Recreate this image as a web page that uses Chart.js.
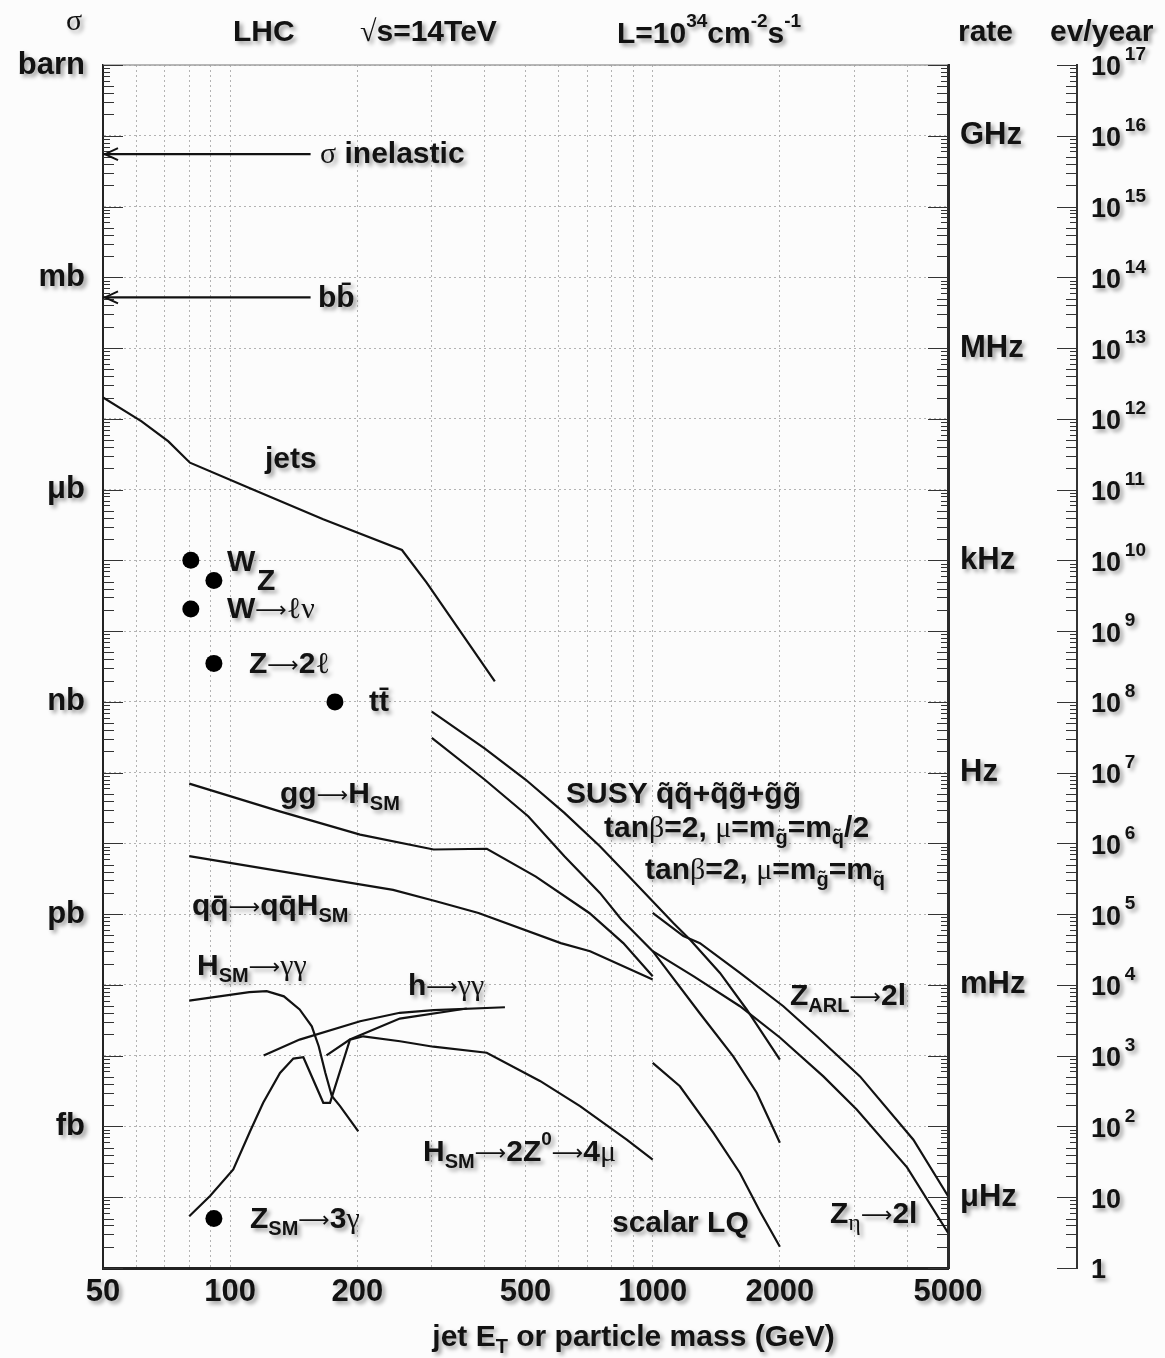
<!DOCTYPE html>
<html>
<head>
<meta charset="utf-8">
<script src="https://cdn.jsdelivr.net/npm/chart.js@4.4.0/dist/chart.umd.min.js"></script>
<style>
  html, body { margin: 0; padding: 0; background: #fcfcfc; }
  canvas { display: block; }
</style>
</head>
<body>
<canvas id="lhc" width="1165" height="1358"></canvas>
<script>
// energies in GeV, cross sections in barn
const sigmaInelX = [50, 155];
const sigmaInelY = [0.055, 0.055];
const bbX = [50, 155];
const bbY = [5.2e-4, 5.2e-4];

const jetsX = [50, 61.7, 71.4, 80.3, 111, 166, 255, 292, 423];
const jetsY = [2.0e-5, 9.2e-6, 4.8e-6, 2.4e-6, 1.05e-6, 3.8e-7, 1.4e-7, 4.8e-8, 1.95e-9];

// W, Z, W->lv, Z->2l, ttbar, Z_SM->3gamma
const dotsX = [80.7, 91.5, 80.7, 91.5, 177, 91.5];
const dotsY = [1.0e-7, 5.2e-8, 2.05e-8, 3.5e-9, 1.0e-9, 5.0e-17];

const ggHX = [80, 131, 203, 303, 405, 529, 708, 852, 1000];
const ggHY = [7.0e-11, 2.84e-11, 1.33e-11, 8.2e-12, 8.4e-12, 3.4e-12, 1.04e-12, 3.9e-13, 1.33e-13];

const qqHX = [80, 157, 243, 307, 387, 606, 711, 1000];
const qqHY = [6.6e-12, 3.4e-12, 2.2e-12, 1.52e-12, 1.04e-12, 3.9e-13, 3.0e-13, 1.19e-13];

const hGamGamX = [80, 111, 122, 134, 146, 156, 162, 168, 174, 182, 201];
const hGamGamY = [6.0e-14, 7.9e-14, 8.15e-14, 6.9e-14, 4.5e-14, 2.6e-14, 1.36e-14, 5.7e-15, 2.7e-15, 1.94e-15, 8.5e-16];

const h4muX = [80, 89.6, 101.7, 111.4, 119.7, 131.2, 141.1, 149, 166.1, 172.3, 192.1, 206.6, 252.3, 302.6, 404.7, 541, 673, 868, 1000];
const h4muY = [5.4e-17, 1.04e-16, 2.47e-16, 8.5e-16, 2.16e-15, 5.7e-15, 9.1e-15, 9.5e-15, 2.16e-15, 2.16e-15, 1.69e-14, 1.88e-14, 1.6e-14, 1.34e-14, 1.1e-14, 4.4e-15, 1.94e-15, 6.5e-16, 3.4e-16];

const lightH1X = [120, 146, 203, 252, 303, 447];
const lightH1Y = [1.01e-14, 1.69e-14, 3.07e-14, 4.04e-14, 4.4e-14, 4.84e-14];
const lightH2X = [169, 192, 252, 363];
const lightH2Y = [1.01e-14, 1.69e-14, 3.35e-14, 4.65e-14];

const susyAX = [300, 400, 500, 618, 750, 879, 1119, 1225, 1443, 1669, 2000];
const susyAY = [7.3e-10, 2.2e-10, 8.0e-11, 2.7e-11, 9.1e-12, 3.4e-12, 7.5e-13, 4.4e-13, 1.48e-13, 4.5e-14, 8.8e-15];
const susyBX = [300, 400, 508, 618, 750, 843, 1000, 1294, 1551, 1763, 2000];
const susyBY = [3.1e-10, 8.0e-11, 2.4e-11, 6.6e-12, 2.0e-12, 8.4e-13, 3.0e-13, 3.95e-14, 9.8e-15, 3.0e-15, 5.9e-16];

const zArlX = [1000, 1182, 1294, 1609, 2038, 2445, 3095, 4140, 5000];
const zArlY = [1.04e-12, 4.9e-13, 3.9e-13, 1.48e-13, 5.0e-14, 1.88e-14, 5.1e-15, 6.5e-16, 1.04e-16];
const zEtaX = [1000, 1248, 1609, 2000, 2535, 3040, 4000, 5000];
const zEtaY = [3.0e-13, 1.33e-13, 5.0e-14, 1.81e-14, 5.1e-15, 1.74e-15, 2.64e-16, 3.15e-17];

const lqX = [1000, 1160, 1391, 1609, 1795, 2000];
const lqY = [7.9e-15, 3.7e-15, 8.2e-16, 2.2e-16, 6.3e-17, 2.0e-17];

// axes
const xGrid = [50, 60, 70, 80, 90, 100, 200, 300, 400, 500, 600, 700, 800, 900, 1000, 2000, 3000, 4000, 5000];
const xLabels = [50, 100, 200, 500, 1000, 2000, 5000];
const unitValues = [1, 1e-3, 1e-6, 1e-9, 1e-12, 1e-15];
const unitLabels = ['barn', 'mb', 'μb', 'nb', 'pb', 'fb'];
const rateValues = [1e-1, 1e-4, 1e-7, 1e-10, 1e-13, 1e-16];
const rateLabels = ['GHz', 'MHz', 'kHz', 'Hz', 'mHz', 'μHz'];
const evExps = [17, 16, 15, 14, 13, 12, 11, 10, 9, 8, 7, 6, 5, 4, 3, 2, 1, 0];

const SANS = "'Liberation Sans', Arial, Helvetica, sans-serif";
const SERIF = "'Liberation Serif', 'DejaVu Serif', serif";
const INK = '#121212';

function logTicks(lo, hi) {
  const out = [];
  for (let e = lo; e <= hi; e++) {
    for (let m = 1; m <= 9; m++) {
      if (e === hi && m > 1) break;
      out.push(Number((m + 'e' + e)));
    }
  }
  return out;
}
function mant(v) {
  const e = Math.floor(Math.log10(v) + 1e-9);
  return Math.round(v / Math.pow(10, e));
}
function near(a, b) { return Math.abs(Math.log10(a) - Math.log10(b)) < 1e-6; }

function series(xs, ys, extra) {
  return Object.assign({
    type: 'line',
    data: xs.map((x, i) => ({x: x, y: ys[i]})),
    borderColor: INK, borderWidth: 2.2, pointRadius: 0, fill: false, tension: 0
  }, extra || {});
}

const STY = {
  b: {font: 'bold 30px ' + SANS, dy: 0},
  s: {font: 'bold 20px ' + SANS, dy: 9},
  p: {font: 'bold 19px ' + SANS, dy: -13},
  g: {font: '30px ' + SERIF, dy: 0},
  a: {font: '22px \'DejaVu Sans\', sans-serif', dy: 1},
  gs: {font: '24px ' + SERIF, dy: 9},
  e: {font: 'bold 27px ' + SANS, dy: 0},
  ep: {font: 'bold 19px ' + SANS, dy: -13}
};
const ARROW = '\u27F6';
function richWidth(ctx, parts) {
  let w = 0;
  parts.forEach(([s, st]) => { ctx.font = STY[st].font; w += ctx.measureText(s).width; });
  return w;
}
function rich(ctx, x, y, parts) {
  let cx = x;
  parts.forEach(([s, st]) => {
    ctx.font = STY[st].font;
    ctx.fillText(s, cx, y + STY[st].dy);
    cx += ctx.measureText(s).width;
  });
}

const notes = [
  [66, 22, [['σ', 'g']]],
  [233, 33, [['LHC', 'b']]],
  [360, 33, [['√', 'g'], ['s=14TeV', 'b']]],
  [617, 35, [['L=10', 'b'], ['34', 'p'], ['cm', 'b'], ['-2', 'p'], ['s', 'b'], ['-1', 'p']]],
  [958, 33, [['rate', 'b']]],
  [1050, 33, [['ev/year', 'b']]],
  [320, 155, [['σ', 'g'], [' inelastic', 'b']]],
  [318, 299, [['bb\u0304', 'b']]],
  [265, 460, [['jets', 'b']]],
  [227, 563, [['W', 'b']]],
  [257, 582, [['Z', 'b']]],
  [227, 610, [['W', 'b'], [ARROW, 'a'], ['ℓν', 'g']]],
  [249, 665, [['Z', 'b'], [ARROW, 'a'], ['2', 'b'], ['ℓ', 'g']]],
  [369, 703, [['tt\u0304', 'b']]],
  [280, 795, [['gg', 'b'], [ARROW, 'a'], ['H', 'b'], ['SM', 's']]],
  [192, 907, [['qq\u0304', 'b'], [ARROW, 'a'], ['qq\u0304H', 'b'], ['SM', 's']]],
  [197, 967, [['H', 'b'], ['SM', 's'], [ARROW, 'a'], ['γγ', 'g']]],
  [408, 987, [['h', 'b'], [ARROW, 'a'], ['γγ', 'g']]],
  [423, 1153, [['H', 'b'], ['SM', 's'], [ARROW, 'a'], ['2Z', 'b'], ['0', 'p'], [ARROW, 'a'], ['4', 'b'], ['μ', 'g']]],
  [250, 1220, [['Z', 'b'], ['SM', 's'], [ARROW, 'a'], ['3', 'b'], ['γ', 'g']]],
  [566, 795, [['SUSY q\u0303q\u0303+q\u0303g\u0303+g\u0303g\u0303', 'b']]],
  [604, 829, [['tan', 'b'], ['β', 'g'], ['=2, ', 'b'], ['μ', 'g'], ['=m', 'b'], ['g\u0303', 's'], ['=m', 'b'], ['q\u0303', 's'], ['/2', 'b']]],
  [645, 871, [['tan', 'b'], ['β', 'g'], ['=2, ', 'b'], ['μ', 'g'], ['=m', 'b'], ['g\u0303', 's'], ['=m', 'b'], ['q\u0303', 's']]],
  [790, 997, [['Z', 'b'], ['ARL', 's'], [ARROW, 'a'], ['2l', 'b']]],
  [830, 1215, [['Z', 'b'], ['η', 'gs'], [ARROW, 'a'], ['2l', 'b']]],
  [612, 1224, [['scalar LQ', 'b']]]
];

const decor = {
  id: 'decor',
  beforeDatasetsDraw(chart) {
    const {ctx, chartArea: a, scales} = chart;
    const y = scales.y, ev = scales.yEv;
    ctx.save();
    ctx.strokeStyle = '#a0a0a0';
    ctx.lineWidth = 1.5;
    ctx.beginPath(); ctx.moveTo(a.left, a.top); ctx.lineTo(a.right, a.top); ctx.stroke();
    ctx.strokeStyle = '#333';
    ctx.lineWidth = 1.2;
    ctx.beginPath();
    y.ticks.forEach(t => {
      const p = Math.round(y.getPixelForValue(t.value)) + 0.5;
      const m = mant(t.value);
      const len = m === 1 ? 20 : (m <= 5 ? 11 : 7);
      ctx.moveTo(a.left, p); ctx.lineTo(a.left + len, p);
      ctx.moveTo(a.right, p); ctx.lineTo(a.right - len, p);
    });
    logTicks(0, 17).forEach(v => {
      const p = Math.round(ev.getPixelForValue(v)) + 0.5;
      const m = mant(v);
      const len = m === 1 ? 20 : (m <= 5 ? 11 : 7);
      ctx.moveTo(ev.left, p); ctx.lineTo(ev.left - len, p);
    });
    ctx.stroke();
    ctx.restore();
  },
  afterDatasetsDraw(chart) {
    const ctx = chart.ctx;
    ctx.save();
    ctx.strokeStyle = INK;
    ctx.lineWidth = 2;
    chart.data.datasets.forEach((ds, i) => {
      if (!ds.arrow) return;
      const pt = chart.getDatasetMeta(i).data[0];
      ctx.beginPath();
      ctx.moveTo(pt.x + 15, pt.y - 6);
      ctx.lineTo(pt.x + 2, pt.y);
      ctx.lineTo(pt.x + 15, pt.y + 6);
      ctx.stroke();
    });
    ctx.restore();
    ctx.shadowColor = 'rgba(0,0,0,0.38)';
    ctx.shadowBlur = 4;
    ctx.shadowOffsetX = 3;
    ctx.shadowOffsetY = 3;
  },
  afterDraw(chart) {
    const {ctx, scales} = chart;
    const ev = scales.yEv;
    ctx.save();
    ctx.fillStyle = INK;
    ctx.textAlign = 'left';
    ctx.textBaseline = 'middle';
    notes.forEach(([x, y, parts]) => rich(ctx, x, y, parts));
    evExps.forEach(e => {
      const p = ev.getPixelForValue(Math.pow(10, e));
      let parts = [['10', 'e'], ['\u2009' + e, 'ep']];
      if (e === 1) parts = [['10', 'e']];
      if (e === 0) parts = [['1', 'e']];
      rich(ctx, ev.left + 14, p + 3, parts);
    });
    const title = [['jet E', 'b'], ['T', 's'], [' or particle mass (GeV)', 'b']];
    const xs = scales.x;
    const cx = (xs.left + xs.right) / 2 + 108;
    rich(ctx, cx - richWidth(ctx, title) / 2, 1338, title);
    ctx.restore();
    ctx.shadowColor = 'rgba(0,0,0,0)';
    ctx.shadowBlur = 0;
    ctx.shadowOffsetX = 0;
    ctx.shadowOffsetY = 0;
  }
};

const datasets = [
  series(sigmaInelX, sigmaInelY, {arrow: true}),
  series(bbX, bbY, {arrow: true}),
  series(jetsX, jetsY),
  series(ggHX, ggHY),
  series(qqHX, qqHY),
  series(hGamGamX, hGamGamY),
  series(h4muX, h4muY),
  series(lightH1X, lightH1Y),
  series(lightH2X, lightH2Y),
  series(susyAX, susyAY),
  series(susyBX, susyBY),
  series(zArlX, zArlY),
  series(zEtaX, zEtaY),
  series(lqX, lqY),
  series(dotsX, dotsY, {showLine: false, pointRadius: 8.5, pointBackgroundColor: '#000', pointBorderWidth: 0})
];

new Chart(document.getElementById('lhc'), {
  type: 'line',
  data: {datasets: datasets},
  plugins: [decor],
  options: {
    responsive: false,
    animation: false,
    devicePixelRatio: 1,
    layout: {padding: {top: 65, right: 0, bottom: 0, left: 0}},
    plugins: {legend: {display: false}, tooltip: {enabled: false}},
    scales: {
      x: {
        type: 'logarithmic', min: 50, max: 5000,
        afterBuildTicks: s => { s.ticks = xGrid.map(v => ({value: v})); },
        afterFit: s => { s.height = 90; },
        ticks: {
          autoSkip: false, maxRotation: 0, padding: 6, z: 1, color: INK,
          font: {family: SANS, size: 31, weight: 'bold'},
          callback: v => xLabels.includes(v) ? String(v) : ''
        },
        grid: {color: c => (c.tick && c.tick.value === 50) ? 'rgba(0,0,0,0)' : '#b3b3b3', lineWidth: 1, drawTicks: false},
        border: {color: '#222', width: 3, dash: [2, 3]}
      },
      y: {
        type: 'logarithmic', min: 1e-17, max: 1, weight: 0,
        afterBuildTicks: s => { s.ticks = logTicks(-17, 0).map(v => ({value: v})); },
        afterFit: s => { s.width = 103; },
        ticks: {
          autoSkip: false, padding: 18, z: 1, color: INK,
          font: {family: SANS, size: 31, weight: 'bold'},
          callback: v => {
            const k = unitValues.findIndex(u => near(u, v));
            return k >= 0 ? unitLabels[k] : '';
          }
        },
        grid: {
          color: c => (c.tick && mant(c.tick.value) === 1) ? '#b3b3b3' : 'rgba(0,0,0,0)',
          lineWidth: 1, drawTicks: false
        },
        border: {color: '#222', width: 2, dash: [2, 3]}
      },
      yRate: {
        type: 'logarithmic', position: 'right', min: 1e-17, max: 1, weight: 1,
        afterBuildTicks: s => { s.ticks = rateValues.map(v => ({value: v})); },
        afterFit: s => { s.width = 129; },
        ticks: {
          autoSkip: false, padding: 4, z: 1, color: INK,
          font: {family: SANS, size: 31, weight: 'bold'},
          callback: v => {
            const k = rateValues.findIndex(u => near(u, v));
            return k >= 0 ? rateLabels[k] : '';
          }
        },
        grid: {display: false},
        border: {color: '#2a2a2a', width: 3}
      },
      yEv: {
        type: 'logarithmic', position: 'right', min: 1, max: 1e17, weight: 2,
        afterFit: s => { s.width = 88; },
        ticks: {display: false},
        grid: {display: false},
        border: {color: '#333', width: 2}
      }
    }
  }
});
</script>
</body>
</html>
